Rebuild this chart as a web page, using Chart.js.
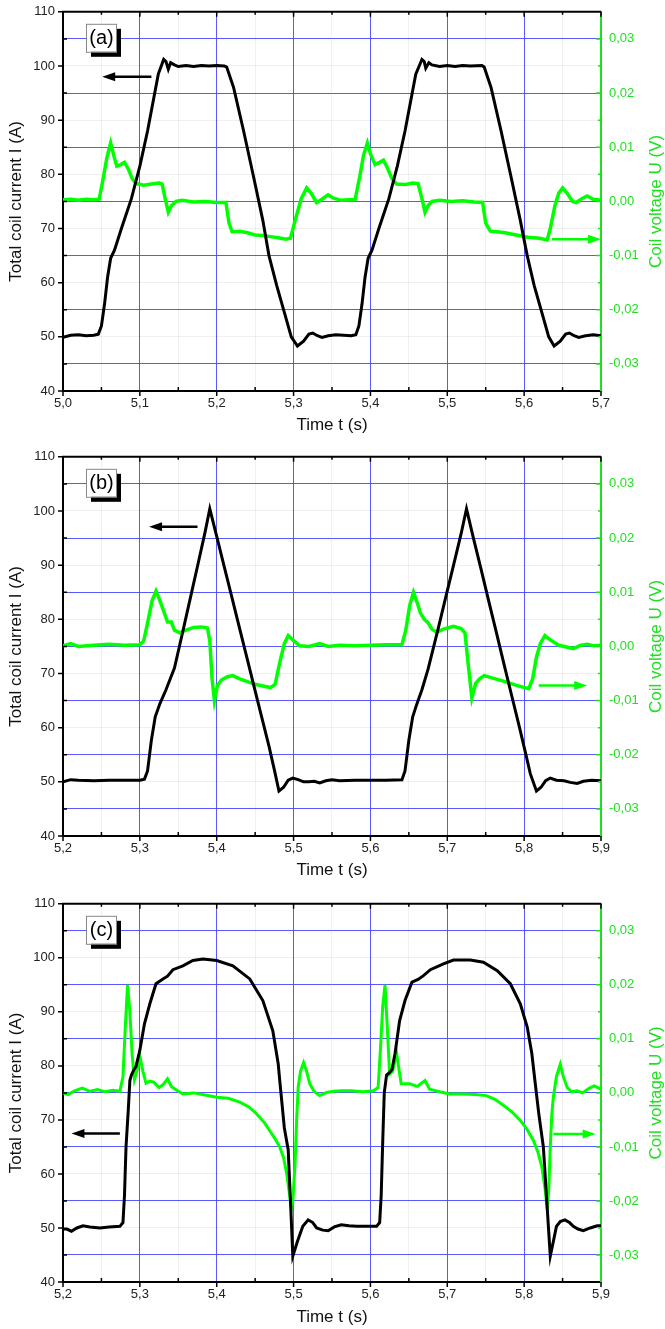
<!DOCTYPE html>
<html>
<head>
<meta charset="utf-8">
<script src="https://cdn.jsdelivr.net/npm/chart.js@4.4.1/dist/chart.umd.min.js"></script>
<style>
  html, body { margin: 0; padding: 0; background: #fff; overflow: hidden; }
  .panel { position: absolute; left: 0; width: 665px; }
</style>
</head>
<body>
<div class="panel" style="top:-4px;height:445px"><canvas id="chartA"></canvas></div>
<div class="panel" style="top:441px;height:445px"><canvas id="chartB"></canvas></div>
<div class="panel" style="top:888px;height:441px"><canvas id="chartC"></canvas></div>
<script>
// axis ticks
const timeTicksA = [5.0, 5.1, 5.2, 5.3, 5.4, 5.5, 5.6, 5.7];
const timeTicksBC = [5.2, 5.3, 5.4, 5.5, 5.6, 5.7, 5.8, 5.9];
const currentTicks = [40, 50, 60, 70, 80, 90, 100, 110];
const voltageTicks = [-0.03, -0.02, -0.01, 0.0, 0.01, 0.02, 0.03];

// panel (a) - trapezoidal current
const timeA = [5.000, 5.010, 5.020, 5.030, 5.040, 5.046, 5.050, 5.054, 5.058, 5.062, 5.067, 5.076, 5.089, 5.100, 5.110, 5.118, 5.124, 5.131, 5.134, 5.137, 5.140, 5.145, 5.150, 5.160, 5.170, 5.180, 5.190, 5.200, 5.210, 5.213, 5.222, 5.235, 5.248, 5.260, 5.268, 5.278, 5.289, 5.297, 5.305, 5.313, 5.320, 5.325, 5.331, 5.337, 5.345, 5.355, 5.365, 5.375, 5.381,
  5.385, 5.389, 5.393, 5.397, 5.402, 5.411, 5.424, 5.435, 5.445, 5.453, 5.459, 5.467, 5.470, 5.472, 5.476, 5.480, 5.490, 5.500, 5.510, 5.520, 5.530, 5.545, 5.548, 5.557, 5.570, 5.583, 5.595, 5.604, 5.613, 5.624, 5.632, 5.639, 5.647, 5.654, 5.659, 5.665, 5.671, 5.680, 5.690, 5.700];
const currentA = [49.9, 50.3, 50.4, 50.2, 50.3, 50.5, 52, 56, 61, 64.5, 66, 70, 75.5, 81.5, 88, 94, 98.5, 101.2, 100.8, 99.4, 100.6, 100.2, 99.9, 100.1, 99.9, 100.1, 100.0, 100.1, 100.0, 99.8, 96, 88, 79.5, 71.5, 65, 59.5, 54, 50, 48.3, 49.2, 50.5, 50.7, 50.2, 49.9, 50.2, 50.4, 50.3, 50.2, 50.4,
  52, 56, 61, 64.5, 66, 70, 75.5, 81.5, 88, 94, 98.5, 101.2, 100.8, 99.6, 100.6, 100.2, 99.9, 100.1, 99.9, 100.1, 100.0, 100.1, 99.8, 96, 88, 79.5, 71.5, 65, 59.5, 54, 50, 48.3, 49.2, 50.5, 50.7, 50.2, 49.9, 50.2, 50.4, 50.2];
const voltTimeA = [5.000, 5.010, 5.020, 5.030, 5.040, 5.047, 5.052, 5.057, 5.062, 5.066, 5.070, 5.075, 5.080, 5.085, 5.090, 5.095, 5.105, 5.115, 5.125, 5.129, 5.133, 5.137, 5.141, 5.147, 5.155, 5.170, 5.185, 5.200, 5.212, 5.216, 5.220, 5.230, 5.240, 5.250, 5.260, 5.270, 5.280, 5.290, 5.296, 5.303, 5.310, 5.317, 5.323, 5.330, 5.337, 5.345, 5.352, 5.362, 5.372,
  5.380, 5.386, 5.391, 5.396, 5.400, 5.406, 5.412, 5.417, 5.422, 5.428, 5.434, 5.445, 5.455, 5.462, 5.467, 5.471, 5.475, 5.480, 5.490, 5.505, 5.520, 5.535, 5.546, 5.550, 5.556, 5.565, 5.575, 5.590, 5.605, 5.620, 5.630, 5.634, 5.640, 5.645, 5.650, 5.656, 5.663, 5.668, 5.675, 5.682, 5.690, 5.700];
const voltageA = [0.0003, 0.0004, 0.0002, 0.0004, 0.0003, 0.0004, 0.0040, 0.0080, 0.0108, 0.0085, 0.0065, 0.0068, 0.0072, 0.0060, 0.0042, 0.0033, 0.0030, 0.0032, 0.0034, 0.0032, 0.0005, -0.0020, -0.0008, 0.0000, 0.0002, -0.0001, 0.0000, -0.0002, -0.0002, -0.0040, -0.0056, -0.0055, -0.0058, -0.0062, -0.0063, -0.0065, -0.0067, -0.0070, -0.0068, -0.0030, 0.0005, 0.0025, 0.0015, -0.0002, 0.0004, 0.0012, 0.0006, 0.0002, 0.0003,
  0.0003, 0.0045, 0.0085, 0.0108, 0.0088, 0.0068, 0.0072, 0.0076, 0.0062, 0.0042, 0.0032, 0.0031, 0.0034, 0.0033, 0.0005, -0.0020, -0.0008, 0.0000, 0.0002, 0.0000, 0.0001, -0.0001, -0.0002, -0.0040, -0.0055, -0.0056, -0.0058, -0.0062, -0.0066, -0.0068, -0.0071, -0.0050, -0.0008, 0.0015, 0.0025, 0.0015, 0.0000, -0.0002, 0.0005, 0.0010, 0.0004, 0.0002];

// panel (b) - triangular current
const timeB = [5.200, 5.210, 5.220, 5.240, 5.260, 5.280, 5.300, 5.306, 5.310, 5.315, 5.320, 5.326, 5.334, 5.345, 5.355, 5.365, 5.375, 5.385, 5.391, 5.400, 5.410, 5.420, 5.430, 5.440, 5.450, 5.460, 5.468, 5.475, 5.481, 5.487, 5.493, 5.499, 5.506, 5.513, 5.520, 5.527, 5.534, 5.542, 5.550, 5.560, 5.580, 5.600, 5.620, 5.641,
  5.645, 5.650, 5.655, 5.660, 5.667, 5.675, 5.688, 5.698, 5.708, 5.718, 5.725, 5.734, 5.744, 5.754, 5.764, 5.774, 5.784, 5.794, 5.801, 5.808, 5.816, 5.822, 5.828, 5.834, 5.842, 5.852, 5.860, 5.869, 5.877, 5.888, 5.900];
const currentB = [50.0, 50.4, 50.3, 50.2, 50.3, 50.3, 50.3, 50.5, 52, 57.7, 62, 64.4, 67, 71, 77.2, 83.5, 89.8, 96.2, 100.4, 95.3, 89.6, 83.9, 78.2, 72.5, 66.8, 61.1, 56.6, 52.2, 48.3, 49.0, 50.3, 50.7, 50.4, 50.0, 50.0, 50.1, 49.8, 50.2, 50.4, 50.2, 50.3, 50.3, 50.3, 50.4,
  52, 57.7, 62, 64.2, 67, 70.8, 78.2, 84.1, 89.9, 95.8, 100.4, 95.0, 89.2, 83.3, 77.5, 71.6, 65.8, 60.0, 55.8, 51.5, 48.3, 49.0, 50.2, 50.7, 50.3, 50.2, 49.9, 49.7, 50.1, 50.3, 50.2];
const voltTimeB = [5.200, 5.210, 5.220, 5.240, 5.260, 5.280, 5.300, 5.305, 5.311, 5.316, 5.321, 5.326, 5.331, 5.336, 5.341, 5.345, 5.352, 5.360, 5.370, 5.380, 5.388, 5.391, 5.394, 5.397, 5.401, 5.406, 5.414, 5.421, 5.430, 5.440, 5.450, 5.460, 5.470, 5.476, 5.482, 5.488, 5.493, 5.499, 5.508, 5.520, 5.534, 5.545, 5.560, 5.580, 5.600, 5.620, 5.641,
  5.646, 5.651, 5.656, 5.661, 5.665, 5.670, 5.675, 5.680, 5.686, 5.695, 5.708, 5.718, 5.723, 5.727, 5.732, 5.737, 5.742, 5.748, 5.758, 5.773, 5.790, 5.806, 5.811, 5.816, 5.821, 5.827, 5.834, 5.845, 5.855, 5.864, 5.873, 5.882, 5.891, 5.900];
const voltageB = [0.0001, 0.0005, 0.0000, 0.0002, 0.0004, 0.0002, 0.0003, 0.0010, 0.0050, 0.0085, 0.0102, 0.0085, 0.0065, 0.0045, 0.0045, 0.0030, 0.0025, 0.0030, 0.0035, 0.0036, 0.0034, 0.0010, -0.0060, -0.0100, -0.0072, -0.0062, -0.0056, -0.0054, -0.0060, -0.0065, -0.0070, -0.0073, -0.0076, -0.0070, -0.0030, 0.0005, 0.0020, 0.0012, 0.0001, 0.0000, 0.0005, 0.0000, 0.0002, 0.0001, 0.0002, 0.0003, 0.0003,
  0.0030, 0.0075, 0.0100, 0.0080, 0.0062, 0.0050, 0.0044, 0.0032, 0.0026, 0.0032, 0.0037, 0.0033, 0.0025, -0.0030, -0.0095, -0.0068, -0.0060, -0.0054, -0.0058, -0.0064, -0.0072, -0.0078, -0.0060, -0.0020, 0.0005, 0.0020, 0.0012, 0.0002, -0.0001, -0.0004, 0.0002, 0.0004, 0.0001, 0.0002];

// panel (c) - rounded current
const timeC = [5.200, 5.205, 5.211, 5.218, 5.226, 5.235, 5.248, 5.260, 5.274, 5.278, 5.280, 5.282, 5.285, 5.287, 5.289, 5.292, 5.295, 5.300, 5.306, 5.313, 5.321, 5.330, 5.336, 5.343, 5.356, 5.369, 5.382, 5.400, 5.421, 5.443, 5.460, 5.473, 5.480, 5.482, 5.488, 5.493, 5.496, 5.499, 5.505, 5.512, 5.519, 5.525, 5.530, 5.538, 5.545, 5.553, 5.562, 5.572, 5.582, 5.595, 5.608,
  5.612, 5.614, 5.616, 5.618, 5.621, 5.625, 5.628, 5.632, 5.638, 5.645, 5.654, 5.662, 5.669, 5.678, 5.695, 5.708, 5.730, 5.747, 5.765, 5.782, 5.795, 5.804, 5.810, 5.814, 5.819, 5.825, 5.829, 5.834, 5.838, 5.842, 5.847, 5.853, 5.859, 5.864, 5.870, 5.877, 5.886, 5.895, 5.900];
const currentC = [49.8, 49.8, 49.4, 50.0, 50.4, 50.2, 50.0, 50.2, 50.3, 51.0, 56, 65, 72, 77.3, 78.3, 79.2, 79.9, 82.9, 87.8, 91.5, 95.2, 96.1, 96.6, 97.8, 98.5, 99.5, 99.8, 99.5, 98.5, 96.1, 92.1, 86.5, 80.4, 77.3, 68.5, 64.5, 55, 44.8, 47.5, 50.3, 51.5, 51.0, 50.0, 49.6, 49.5, 50.2, 50.6, 50.4, 50.3, 50.3, 50.3,
  51.0, 56, 66, 75, 78.3, 78.8, 79.3, 82.3, 88.4, 92.1, 95.5, 96.0, 96.7, 97.8, 98.9, 99.6, 99.6, 99.2, 97.6, 95.2, 91.5, 87.2, 82.3, 77.3, 71.2, 65.0, 56, 44.8, 47.5, 50.3, 51.2, 51.5, 51.0, 50.3, 49.8, 49.5, 50.0, 50.4, 50.4];
const voltTimeC = [5.200, 5.207, 5.215, 5.225, 5.235, 5.245, 5.255, 5.265, 5.274, 5.278, 5.281, 5.284, 5.287, 5.290, 5.293, 5.297, 5.300, 5.304, 5.308, 5.313, 5.318, 5.325, 5.330, 5.336, 5.341, 5.348, 5.356, 5.370, 5.385, 5.400, 5.415, 5.430, 5.442, 5.452, 5.462, 5.469, 5.476, 5.482, 5.487, 5.491, 5.494, 5.497, 5.499, 5.502, 5.504, 5.506, 5.509, 5.513, 5.517, 5.521, 5.527, 5.534, 5.543, 5.552, 5.562, 5.575, 5.590, 5.604,
  5.610, 5.613, 5.616, 5.619, 5.622, 5.625, 5.629, 5.634, 5.637, 5.640, 5.651, 5.661, 5.671, 5.677, 5.690, 5.703, 5.721, 5.736, 5.751, 5.762, 5.773, 5.784, 5.795, 5.804, 5.812, 5.818, 5.823, 5.827, 5.830, 5.832, 5.834, 5.836, 5.838, 5.842, 5.847, 5.851, 5.856, 5.862, 5.869, 5.876, 5.884, 5.891, 5.900];
const voltageC = [0.0000, -0.0003, 0.0004, 0.0009, 0.0003, 0.0006, 0.0002, 0.0005, 0.0003, 0.0030, 0.0120, 0.0200, 0.0150, 0.0070, 0.0025, 0.0045, 0.0068, 0.0040, 0.0018, 0.0022, 0.0020, 0.0010, 0.0015, 0.0026, 0.0012, 0.0005, -0.0002, 0.0000, -0.0004, -0.0008, -0.0010, -0.0017, -0.0026, -0.0039, -0.0055, -0.0070, -0.0085, -0.0100, -0.0120, -0.0149, -0.0180, -0.0215, -0.0200, -0.0130, -0.0050, 0.0010, 0.0040, 0.0056, 0.0040, 0.0017, 0.0002, -0.0005, 0.0001, 0.0003, 0.0004, 0.0004, 0.0002, 0.0004,
  0.0010, 0.0080, 0.0160, 0.0200, 0.0120, 0.0035, 0.0040, 0.0074, 0.0045, 0.0017, 0.0017, 0.0012, 0.0023, 0.0007, 0.0002, -0.0002, -0.0002, -0.0003, -0.0005, -0.0012, -0.0023, -0.0035, -0.0051, -0.0068, -0.0088, -0.0110, -0.0137, -0.0175, -0.0215, -0.0180, -0.0100, -0.0040, -0.0008, 0.0030, 0.0053, 0.0030, 0.0010, 0.0002, 0.0004, 0.0000, 0.0008, 0.0013, 0.0007];

const FONT = "'Liberation Sans', Arial, sans-serif";
const GREEN = '#00ff00';
const GREEN_TEXT = '#1fe01f';
const BLUE = 'rgba(70, 70, 255, 0.9)';
const FAINT = 'rgba(0, 0, 0, 0.06)';

function withMinor(majors) {
  const out = [];
  majors.forEach((v, i) => {
    out.push({ value: v, minor: false });
    if (i < majors.length - 1) out.push({ value: (v + majors[i + 1]) / 2, minor: true });
  });
  return out;
}

function pairs(xs, ys) {
  return xs.map((x, i) => ({ x: x, y: ys[i] }));
}

const decorPlugin = {
  id: 'decor',
  afterDraw(chart, args, opts) {
    const { ctx, chartArea: a, scales } = chart;
    ctx.save();
    // top frame
    ctx.strokeStyle = '#000';
    ctx.lineWidth = 2;
    ctx.beginPath();
    ctx.moveTo(a.left - 1, a.top);
    ctx.lineTo(a.right, a.top);
    ctx.stroke();

    // tick marks: majors outside, minors inside
    ctx.lineWidth = 1.5;
    ctx.beginPath();
    scales.x.ticks.forEach(t => {
      const x = scales.x.getPixelForValue(t.value);
      if (t.minor) {
        ctx.moveTo(x, a.bottom); ctx.lineTo(x, a.bottom - 4);
        ctx.moveTo(x, a.top); ctx.lineTo(x, a.top + 3);
      } else {
        ctx.moveTo(x, a.bottom); ctx.lineTo(x, a.bottom + 5);
        ctx.moveTo(x, a.top); ctx.lineTo(x, a.top + 5);
      }
    });
    scales.y.ticks.forEach(t => {
      const y = scales.y.getPixelForValue(t.value);
      if (t.minor) { ctx.moveTo(a.left, y); ctx.lineTo(a.left + 4, y); }
      else { ctx.moveTo(a.left, y); ctx.lineTo(a.left - 5, y); }
    });
    ctx.stroke();

    ctx.strokeStyle = GREEN_TEXT;
    ctx.beginPath();
    scales.y2.ticks.forEach(t => {
      const y = scales.y2.getPixelForValue(t.value);
      ctx.moveTo(a.right, y);
      ctx.lineTo(a.right - (t.minor ? 3 : 5), y);
    });
    ctx.stroke();

    // right axis title, reading upwards
    ctx.fillStyle = GREEN_TEXT;
    ctx.font = '17px ' + FONT;
    ctx.textAlign = 'center';
    ctx.textBaseline = 'middle';
    ctx.save();
    ctx.translate(656, (a.top + a.bottom) / 2);
    ctx.rotate(-Math.PI / 2);
    ctx.fillText('Coil voltage U (V)', 0, 0);
    ctx.restore();

    // arrows pointing to the axis each curve belongs to
    opts.arrows.forEach(ar => {
      const sc = scales[ar.axis];
      const x1 = scales.x.getPixelForValue(ar.from);
      const x2 = scales.x.getPixelForValue(ar.to);
      const y = sc.getPixelForValue(ar.level);
      const dir = Math.sign(x2 - x1);
      ctx.strokeStyle = ar.color;
      ctx.fillStyle = ar.color;
      ctx.lineWidth = 2.5;
      ctx.beginPath();
      ctx.moveTo(x1, y);
      ctx.lineTo(x2 - dir * 10, y);
      ctx.stroke();
      ctx.beginPath();
      ctx.moveTo(x2, y);
      ctx.lineTo(x2 - dir * 13, y - 4.5);
      ctx.lineTo(x2 - dir * 13, y + 4.5);
      ctx.closePath();
      ctx.fill();
    });

    // panel label with drop shadow
    const bx = a.left + 23, by = a.top + 12, bw = 30, bh = 28;
    ctx.fillStyle = '#000';
    ctx.fillRect(bx + 5, by + 5, bw, bh);
    ctx.fillStyle = '#fff';
    ctx.fillRect(bx, by, bw, bh);
    ctx.strokeStyle = '#888';
    ctx.lineWidth = 1;
    ctx.strokeRect(bx + 0.5, by + 0.5, bw, bh);
    ctx.fillStyle = '#000';
    ctx.font = '20px ' + FONT;
    ctx.textAlign = 'center';
    ctx.textBaseline = 'middle';
    ctx.fillText(opts.label, bx + bw / 2 + 0.5, by + bh / 2 + 1);
    ctx.restore();
  }
};

function makePanel(id, p) {
  const xTicks = withMinor(p.timeTicks);
  const yTicks = withMinor(currentTicks);
  const y2Ticks = withMinor(voltageTicks);
  return new Chart(document.getElementById(id), {
    type: 'line',
    data: {
      datasets: [
        { label: 'Total coil current I', data: pairs(p.curT, p.curI), yAxisID: 'y',
          borderColor: '#000', borderWidth: 3, pointRadius: 0, tension: 0 },
        { label: 'Coil voltage U', data: pairs(p.volT, p.volU), yAxisID: 'y2',
          borderColor: GREEN, borderWidth: p.greenWidth, pointRadius: 0, tension: 0 }
      ]
    },
    options: {
      responsive: true,
      maintainAspectRatio: false,
      animation: false,
      devicePixelRatio: 1,
      layout: { padding: { top: 0, left: 0, right: 0, bottom: 0 } },
      plugins: {
        legend: { display: false },
        tooltip: { enabled: false },
        decor: { label: p.label, arrows: p.arrows }
      },
      scales: {
        x: {
          type: 'linear',
          min: p.timeTicks[0],
          max: p.timeTicks[p.timeTicks.length - 1],
          afterBuildTicks: s => { s.ticks = xTicks.map(t => ({ value: t.value, minor: t.minor })); },
          afterFit: s => { s.height = p.xHeight; },
          ticks: {
            autoSkip: false, maxRotation: 0, padding: 5, color: '#222',
            font: { family: FONT, size: 13 },
            callback: (v, i, ticks) => ticks[i].minor ? '' : v.toFixed(1).replace('.', ',')
          },
          grid: { drawTicks: false, lineWidth: 1,
            color: c => (c.tick && c.tick.minor) ? FAINT : BLUE },
          border: { color: '#000', width: 2 },
          title: { display: true, text: 'Time t (s)', color: '#111',
            font: { family: FONT, size: 17 }, padding: { top: 0, bottom: p.titlePad } }
        },
        y: {
          position: 'left',
          min: 40, max: 110,
          afterBuildTicks: s => { s.ticks = yTicks.map(t => ({ value: t.value, minor: t.minor })); },
          afterFit: s => { s.width = 63; },
          ticks: {
            autoSkip: false, padding: 8, color: '#222',
            font: { family: FONT, size: 13 },
            callback: (v, i, ticks) => ticks[i].minor ? '' : String(v)
          },
          grid: { drawTicks: false, lineWidth: 1,
            color: c => (c.tick && c.tick.minor) ? 'rgba(0,0,0,0)' : FAINT },
          border: { color: '#000', width: 2 },
          title: { display: true, text: 'Total coil current I (A)', color: '#111',
            font: { family: FONT, size: 17 }, padding: { top: 6, bottom: 0 } }
        },
        y2: {
          position: 'right',
          min: -0.035, max: 0.035,
          afterBuildTicks: s => { s.ticks = y2Ticks.map(t => ({ value: t.value, minor: t.minor })); },
          afterFit: s => { s.width = 64; },
          ticks: {
            autoSkip: false, padding: 8, color: GREEN_TEXT,
            font: { family: FONT, size: 13 },
            callback: (v, i, ticks) => ticks[i].minor ? '' : v.toFixed(2).replace('.', ',').replace('-0,00', '0,00')
          },
          grid: { drawTicks: false, lineWidth: 1,
            color: c => (c.tick && c.tick.minor) ? 'rgba(0,0,0,0)' : BLUE },
          border: { color: GREEN_TEXT, width: 2 }
        }
      }
    },
    plugins: [decorPlugin]
  });
}

makePanel('chartA', {
  label: '(a)', timeTicks: timeTicksA, xHeight: 50, titlePad: 5, greenWidth: 3.5,
  curT: timeA, curI: currentA, volT: voltTimeA, volU: voltageA,
  arrows: [
    { axis: 'y', level: 98.0, from: 5.115, to: 5.051, color: '#000' },
    { axis: 'y2', level: -0.0070, from: 5.636, to: 5.700, color: GREEN }
  ]
});
makePanel('chartB', {
  label: '(b)', timeTicks: timeTicksBC, xHeight: 50, titlePad: 5, greenWidth: 3.5,
  curT: timeB, curI: currentB, volT: voltTimeB, volU: voltageB,
  arrows: [
    { axis: 'y', level: 97.1, from: 5.375, to: 5.312, color: '#000' },
    { axis: 'y2', level: -0.0072, from: 5.819, to: 5.882, color: GREEN }
  ]
});
makePanel('chartC', {
  label: '(c)', timeTicks: timeTicksBC, xHeight: 47, titlePad: 1, greenWidth: 3,
  curT: timeC, curI: currentC, volT: voltTimeC, volU: voltageC,
  arrows: [
    { axis: 'y', level: 67.5, from: 5.274, to: 5.211, color: '#000' },
    { axis: 'y2', level: -0.0076, from: 5.838, to: 5.893, color: GREEN }
  ]
});
</script>
</body>
</html>
